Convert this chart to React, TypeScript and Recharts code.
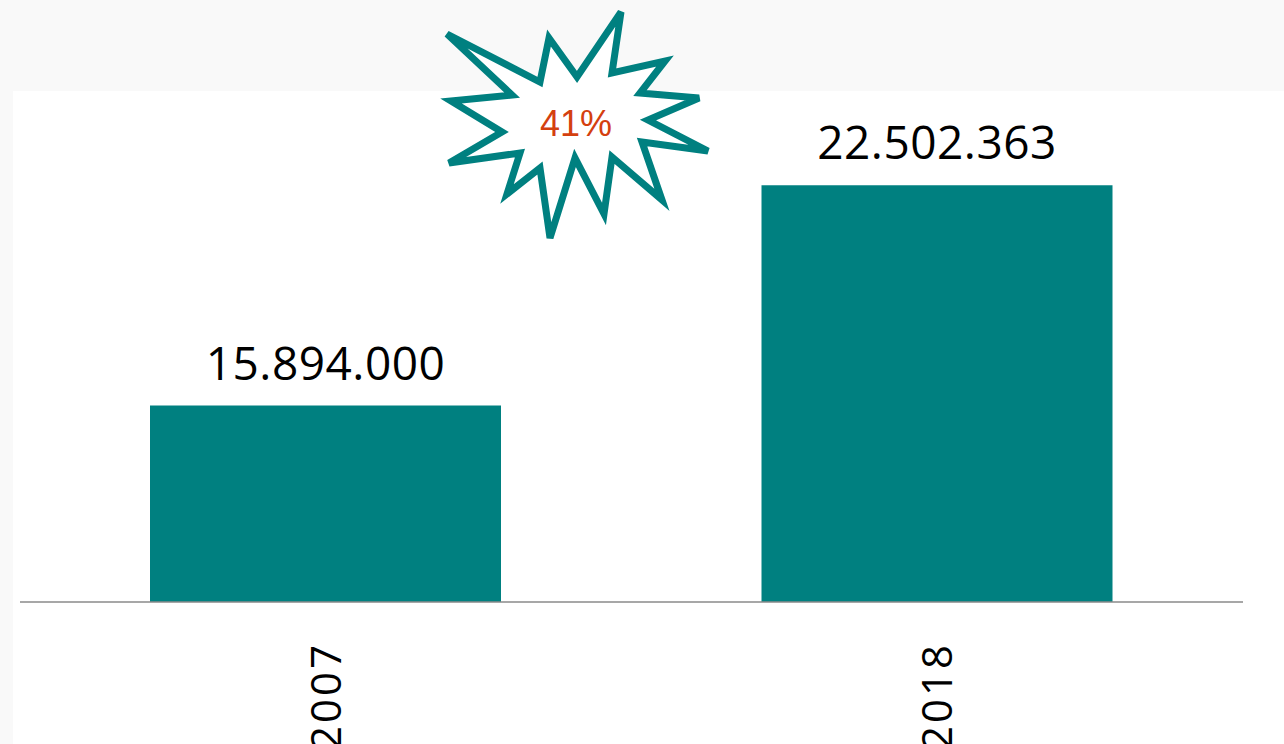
import React from 'react';
import { BarChart, Bar, XAxis, YAxis, LabelList } from 'recharts';

const categories = ['2007', '2018'];
const values = [15894000, 22502363];
const growthLabel = '41%';
const yDomain = [10000000, 25000000];

const data = categories.map((c, i) => ({ year: c, value: values[i] }));

const TEAL = '#008080';

const formatDots = (v: number) => String(Math.round(v)).replace(/\B(?=(\d{3})+(?!\d))/g, '.');

const YearTick = (props: any) => {
  const { x, y, payload } = props;
  return (
    <text
      transform={`translate(${x + 15},${y + 40}) rotate(-90)`}
      textAnchor="end"
      fontSize={42}
      fontFamily="Open Sans"
      fill="#000"
      letterSpacing={3}
    >
      {payload.value}
    </text>
  );
};

const starPoints = [
  [447, 34], [540, 82], [549, 38], [577, 77], [621, 12], [612, 73], [665, 61], [640, 93],
  [699, 98], [648, 120], [708, 151], [642, 142], [662, 200], [612, 157], [604, 214], [575, 158],
  [550, 238], [540, 168], [507, 194], [520, 153], [449, 163], [502, 132], [451, 101], [512, 95],
];

export default function App() {
  return (
    <div style={{ position: 'absolute', left: 0, top: 0, width: 1284, height: 744, background: '#fff', overflow: 'hidden' }}>
      <svg width={1284} height={744} style={{ position: 'absolute', left: 0, top: 0 }}>
        <rect x={0} y={0} width={1284} height={91} fill="#f9f9f9" />
        <rect x={0} y={91} width={13} height={653} fill="#f9f9f9" />
      </svg>
      <div style={{ position: 'absolute', left: 0, top: 0 }}>
        <BarChart width={1284} height={744} data={data} margin={{ top: 102, right: 41, left: 20, bottom: 112 }}>
          <YAxis hide domain={yDomain} allowDataOverflow />
          <XAxis
            dataKey="year"
            height={30}
            axisLine={{ stroke: '#8a8a8a', strokeWidth: 1.5 }}
            tickLine={false}
            tickSize={0}
            tickMargin={0}
            tick={<YearTick />}
            interval={0}
          />
          <Bar dataKey="value" fill={TEAL} barSize={351} isAnimationActive={false}>
            <LabelList
              dataKey="value"
              position="top"
              offset={26}
              formatter={(v: any) => formatDots(Number(v))}
              style={{ fontSize: 46, fontFamily: 'Open Sans', fill: '#000', letterSpacing: 0.5 }}
            />
          </Bar>
        </BarChart>
      </div>
      <svg width={1284} height={744} style={{ position: 'absolute', left: 0, top: 0, pointerEvents: 'none' }}>
        <polygon
          points={starPoints.map((p) => p.join(',')).join(' ')}
          fill="#fff"
          stroke={TEAL}
          strokeWidth={7}
          strokeLinejoin="miter"
          strokeMiterlimit={4}
        />
        <text x={576} y={136} textAnchor="middle" fontSize={36} fontFamily="Liberation Sans" fill="#d4400f">
          {growthLabel}
        </text>
      </svg>
    </div>
  );
}
